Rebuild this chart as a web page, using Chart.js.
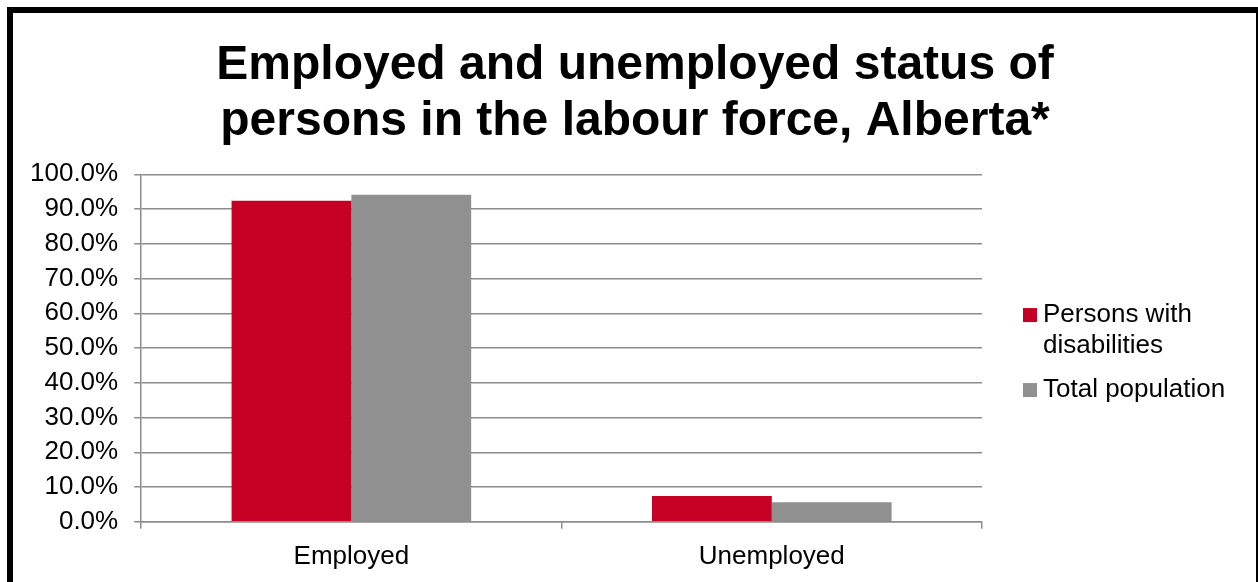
<!DOCTYPE html>
<html>
<head>
<meta charset="utf-8">
<script src="https://cdn.jsdelivr.net/npm/chart.js@4/dist/chart.umd.min.js"></script>
<style>
  html, body { margin: 0; padding: 0; background: #fff; overflow: hidden; }
  .frame {
    position: absolute; left: 7px; top: 7px;
    width: 1243px; height: 600px;
    border: 6px solid #000;
    background: #fff;
  }
  .chart-box { position: relative; width: 1243px; height: 573px; }
</style>
</head>
<body>
<div class="frame">
  <div class="chart-box"><canvas id="chart"></canvas></div>
</div>
<script>
const categories = ['Employed', 'Unemployed'];
const disabilities = [92.4, 7.4];
const totalPop = [94.1, 5.6];
const seriesNames = [['Persons with', 'disabilities'], 'Total population'];
const titleLines = ['Employed and unemployed status of', 'persons in the labour force, Alberta*'];

const FONT = "'Liberation Sans', Arial, sans-serif";
const gridGrey = '#8c8c8c';

// legend drawn by hand so it sits where Excel put it
const sideLegend = {
  id: 'sideLegend',
  afterDraw(chart) {
    const ctx = chart.ctx;
    const area = chart.chartArea;
    const mid = (area.top + area.bottom) / 2;
    const bx = area.right + 41;
    const tx = area.right + 61;
    let y = mid - 40;
    ctx.save();
    ctx.font = '26px ' + FONT;
    ctx.textBaseline = 'alphabetic';
    chart.data.datasets.forEach(ds => {
      const lines = Array.isArray(ds.label) ? ds.label : [ds.label];
      ctx.fillStyle = ds.backgroundColor;
      ctx.fillRect(bx, y, 14, 14);
      ctx.fillStyle = '#000';
      lines.forEach((ln, i) => ctx.fillText(ln, tx, y + 14 + i * 31));
      y += (lines.length - 1) * 31 + 44;
    });
    ctx.restore();
  }
};

new Chart(document.getElementById('chart'), {
  type: 'bar',
  data: {
    labels: categories,
    datasets: [
      { label: seriesNames[0], data: disabilities, backgroundColor: '#c60024' },
      { label: seriesNames[1], data: totalPop, backgroundColor: '#909090' }
    ]
  },
  options: {
    responsive: true,
    maintainAspectRatio: false,
    animation: false,
    categoryPercentage: 0.57,
    barPercentage: 1,
    layout: { padding: { left: 1, right: 0, bottom: 2, top: 0 } },
    plugins: {
      legend: { display: false },
      tooltip: { enabled: false },
      title: {
        display: true,
        text: titleLines,
        color: '#000',
        font: { family: FONT, size: 48, weight: 'bold', lineHeight: 1.17 },
        padding: { top: 25, bottom: 24 }
      }
    },
    scales: {
      x: {
        grid: { display: true, drawOnChartArea: false, drawTicks: true, tickLength: 7, color: gridGrey, lineWidth: 1.5 },
        border: { display: true, color: gridGrey, width: 1.5 },
        ticks: { color: '#000', font: { family: FONT, size: 26 }, padding: 12 }
      },
      y: {
        min: 0,
        max: 100,
        grid: { color: gridGrey, lineWidth: 1.5, tickLength: 7 },
        border: { display: true, color: gridGrey, width: 1.5 },
        ticks: {
          stepSize: 10,
          autoSkip: false,
          color: '#000',
          font: { family: FONT, size: 26 },
          padding: 16,
          callback: v => v.toFixed(1) + '%'
        }
      },
      // empty right-hand axis that only reserves room for the legend
      space: {
        type: 'linear',
        position: 'right',
        display: true,
        grid: { display: false },
        border: { display: false },
        ticks: { display: false },
        afterFit: s => { s.width = 274; }
      }
    }
  },
  plugins: [sideLegend]
});
</script>
</body>
</html>
